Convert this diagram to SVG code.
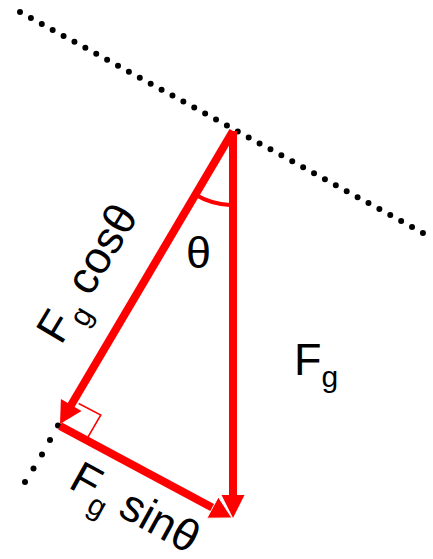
<svg xmlns="http://www.w3.org/2000/svg" width="433" height="559" viewBox="0 0 433 559">
<style>
.dots{fill:none;stroke:#000;stroke-width:6;stroke-linecap:round}
.dot{fill:#000}
.vec{fill:none;stroke:#ff0000;stroke-width:8;stroke-linecap:butt}
.head{fill:#ff0000}
.lbl{font-family:"Liberation Sans",Arial,sans-serif;font-size:45px;fill:#000}
.sub{font-size:30px}
</style>
<rect width="433" height="559" fill="#fff"/>
<g id="incline">
<line class="dots" x1="20" y1="12" x2="423" y2="233" stroke-dasharray="0 12.42"/>
<circle class="dot" cx="58" cy="425.5" r="3"/>
<circle class="dot" cx="50" cy="440" r="3"/>
<circle class="dot" cx="42" cy="454.5" r="3"/>
<circle class="dot" cx="33.5" cy="468.5" r="3"/>
<circle class="dot" cx="25" cy="482" r="3"/>
</g>
<g id="angle-arc">
<path d="M 195.5,194.8 A 74 74 0 0 0 230,205" fill="none" stroke="#ff0000" stroke-width="4"/>
</g>
<g id="right-angle">
<polyline points="78.7,403.5 100.8,415 88,437" fill="none" stroke="#ff0000" stroke-width="1.5"/>
</g>
<g id="connectors">
<line class="vec" x1="233" y1="131" x2="233" y2="497"/>
<polygon class="head" points="233,518 221.5,495 244.5,495"/>
<line class="vec" x1="233" y1="131" x2="70" y2="407"/>
<polygon class="head" points="60,424 81.5,411.1 60.9,398.9"/>
<line class="vec" x1="60" y1="426" x2="214" y2="508.5"/>
<polygon class="head" points="232,518 206.9,518.2 218.3,497" stroke="#fff" stroke-width="1"/>
</g>
<g id="label-theta">
<text class="lbl" x="186" y="268">θ</text>
</g>
<g id="label-Fg">
<text class="lbl" x="294" y="375" font-size="46">F<tspan class="sub" dy="12">g</tspan></text>
</g>
<g id="label-Fg-cos">
<text class="lbl" transform="translate(61,346) rotate(-59)">F<tspan class="sub" dy="12">g</tspan><tspan dy="-12"> cosθ</tspan></text>
</g>
<g id="label-Fg-sin">
<text class="lbl" transform="translate(67,487) rotate(29)">F<tspan class="sub" dy="12">g</tspan><tspan dy="-12"> sinθ</tspan></text>
</g>
</svg>
